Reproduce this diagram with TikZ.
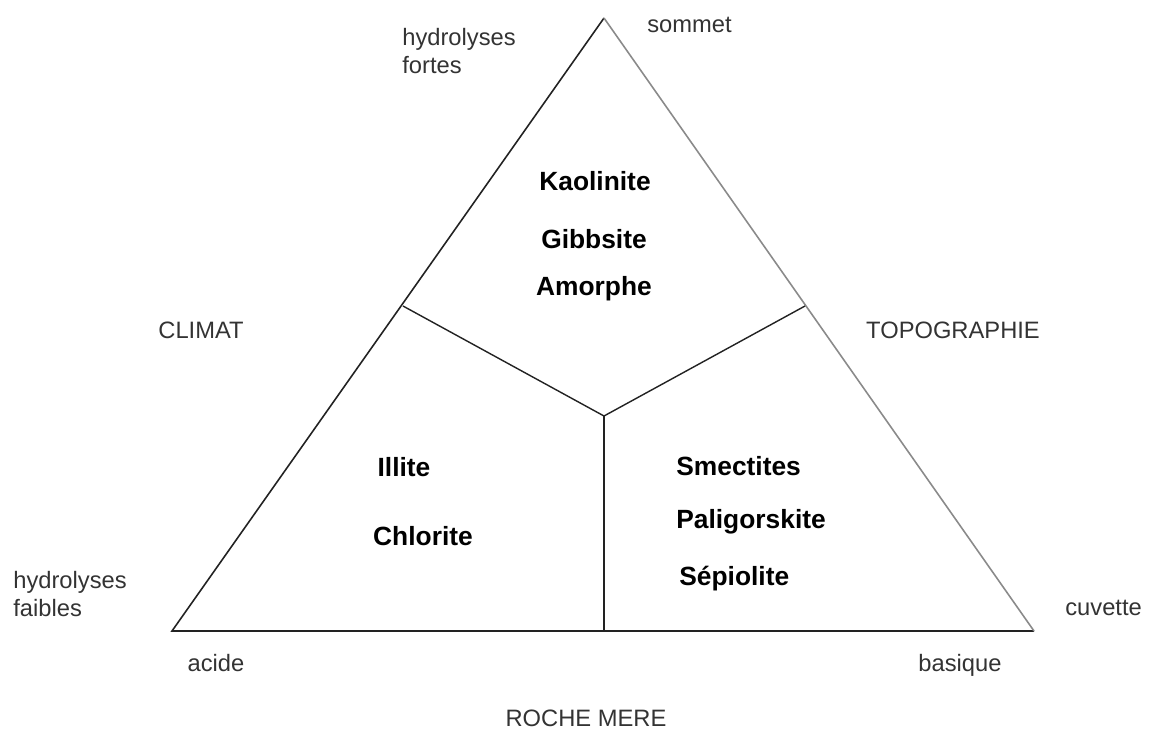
\documentclass[tikz,border=0pt]{standalone}
\usepackage{fontspec}
\setmainfont{Liberation Sans}
\usepackage{tikz}
\usetikzlibrary{positioning}
\definecolor{Trait}  {HTML}{222222}
\definecolor{TraitG} {HTML}{8A8A8A}
\definecolor{Texte}  {HTML}{333333}

\begin{document}
\begin{tikzpicture}[x=0.02cm,y=-0.02cm,
  pole/.style={font=\fontsize{13.5}{15.5}\selectfont\color{Texte},inner sep=0pt,align=left},
  mineral/.style={font=\fontsize{15}{18}\selectfont\bfseries,inner sep=0pt},
  bord/.style={draw=Trait,line width=0.9pt},
  bordg/.style={draw=TraitG,line width=0.9pt},
  sep/.style={draw=Trait,line width=0.8pt}
]
\useasboundingbox (0,0) rectangle (1157,731);
% sommets du triangle
\coordinate (sommet) at (604,18);
\coordinate (acide) at (172,631);
\coordinate (basique) at (1034,631);
% points de partage
\coordinate (pg) at (403,306);
\coordinate (pd) at (805,306);
\coordinate (centre) at (604,416);
\coordinate (pb) at (604,631);
\draw[bord](basique)--(acide)--(sommet);
\draw[bordg](sommet)--(basique);
\draw[sep](pg)--(centre);\draw[sep](pd)--(centre);\draw[sep](centre)--(pb);
% domaines
\node[mineral](kao) at (595,181){Kaolinite};
\node[mineral](gib) at (594,239){Gibbsite};
\node[mineral](amo) at (594,289){Amorphe};
\node[mineral](ill) at (404,467){Illite};
\node[mineral](chl) at (423,536){Chlorite};
\node[mineral,anchor=west](sme) at (676,466){Smectites};
\node[mineral,anchor=west](pal) at (676,522){Paligorskite};
\node[mineral,anchor=west](sep) at (679,579){Sépiolite};
% facteurs
\node[pole,anchor=west](hf) at (402,51){hydrolyses\\fortes};
\node[pole,anchor=west](som) at (647,25){sommet};
\node[pole](cli) at (201,330){CLIMAT};
\node[pole](top) at (953,330){TOPOGRAPHIE};
\node[pole,anchor=west](hfa) at (13,594){hydrolyses\\faibles};
\node[pole,anchor=west](cuv) at (1065,608){cuvette};
\node[pole,anchor=base](aci) at (216,671){acide};
\node[pole,anchor=base](bas) at (960,671){basique};
\node[pole](roc) at (586,718){ROCHE MERE};
\end{tikzpicture}
\end{document}
